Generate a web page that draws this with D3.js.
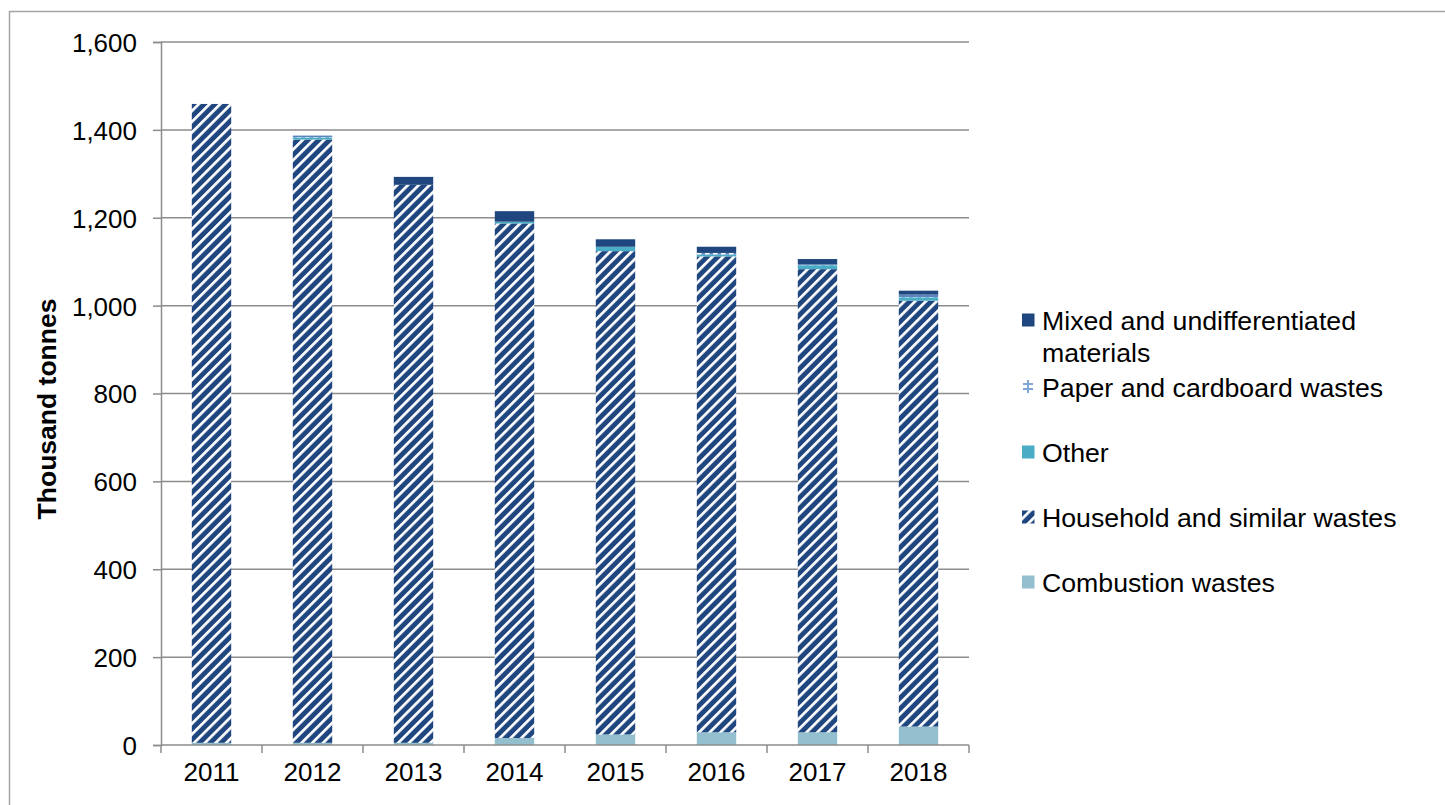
<!DOCTYPE html>
<html>
<head>
<meta charset="utf-8">
<script src="https://cdn.jsdelivr.net/npm/d3@7"></script>
<style>
  html, body { margin: 0; padding: 0; background: #ffffff; }
  svg { display: block; font-family: "Liberation Sans", Arial, sans-serif; }
</style>
</head>
<body>
<svg id="chart" width="1445" height="805"></svg>
<script>
// Waste treated, thousand tonnes, by waste category and year
const years = ["2011", "2012", "2013", "2014", "2015", "2016", "2017", "2018"];
const combustion = [5, 5, 5, 16, 24, 29, 29, 42];
const household = [1454, 1373, 1270, 1171, 1100, 1083, 1054, 969];
const other = [0, 5, 0, 4, 10, 4, 9, 8];
const paper = [0, 4, 0, 0, 0, 4, 2, 6];
const mixed = [0, 0, 18, 24, 17, 14, 12, 9];
const yTicks = [0, 200, 400, 600, 800, 1000, 1200, 1400, 1600];

// Stack order, bottom to top
const seriesKeys = ["combustion", "household", "other", "paper", "mixed"];
const seriesNames = {
  mixed: ["Mixed and undifferentiated", "materials"],
  paper: ["Paper and cardboard wastes"],
  other: ["Other"],
  household: ["Household and similar wastes"],
  combustion: ["Combustion wastes"]
};
const seriesValues = { combustion, household, other, paper, mixed };

const rows = years.map((y, i) => {
  const r = { year: y };
  seriesKeys.forEach(k => { r[k] = seriesValues[k][i]; });
  return r;
});

const svg = d3.select("#chart");
const plot = { left: 161, right: 969, top: 42, bottom: 745 };
const FONT = "Liberation Sans, Arial, sans-serif";

const x = d3.scaleBand().domain(years).range([plot.left, plot.right])
  .paddingInner(0.61).paddingOuter(0.305);
const xCat = d3.scaleBand().domain(years).range([plot.left, plot.right]);
const y = d3.scaleLinear().domain([0, 1600]).range([plot.bottom, plot.top]);

// Fills
const defs = svg.append("defs");
const hh = defs.append("pattern").attr("id", "hatch-household")
  .attr("patternUnits", "userSpaceOnUse").attr("width", 7.6).attr("height", 7.6)
  .attr("patternTransform", "rotate(45)");
hh.append("rect").attr("width", 7.6).attr("height", 7.6).attr("fill", "#1f467f");
hh.append("rect").attr("width", 2.7).attr("height", 7.6).attr("fill", "#ffffff");

const pp = defs.append("pattern").attr("id", "dash-paper")
  .attr("patternUnits", "userSpaceOnUse").attr("width", 8).attr("height", 4);
pp.append("rect").attr("width", 8).attr("height", 4).attr("fill", "#5b86bd");
pp.append("rect").attr("x", 1).attr("y", 1).attr("width", 4.5).attr("height", 1.6).attr("fill", "#ffffff");

const fills = {
  combustion: "#93bfcf",
  household: "url(#hatch-household)",
  other: "#4bacc6",
  paper: "url(#dash-paper)",
  mixed: "#1f467f"
};

// Outer frame
svg.append("path").attr("d", "M9.5,805 V11.5 H1445")
  .attr("fill", "none").attr("stroke", "#a3a3a3").attr("stroke-width", 1.5);

// Horizontal gridlines
svg.append("g").selectAll("line").data(yTicks.filter(t => t > 0)).join("line")
  .attr("x1", plot.left).attr("x2", plot.right)
  .attr("y1", d => y(d)).attr("y2", d => y(d))
  .attr("stroke", "#8c8c8c").attr("stroke-width", 1.5);

// Stacked bars
const stack = d3.stack().keys(seriesKeys)(rows);
svg.append("g").selectAll("g").data(stack).join("g")
  .attr("fill", d => fills[d.key])
  .selectAll("rect").data(d => d.filter(s => s[1] - s[0] > 0)).join("rect")
  .attr("x", d => x(d.data.year))
  .attr("width", x.bandwidth())
  .attr("y", d => y(d[1]))
  .attr("height", d => y(d[0]) - y(d[1]));

// Y axis
const yAxis = d3.axisLeft(y).tickValues(yTicks).tickSize(8).tickPadding(16)
  .tickFormat(d3.format(","));
const gy = svg.append("g").attr("transform", `translate(${plot.left},0)`).call(yAxis);
gy.select(".domain").attr("stroke", "#8c8c8c").attr("stroke-width", 1.5);
gy.selectAll(".tick line").attr("stroke", "#8c8c8c").attr("stroke-width", 1.5);
gy.selectAll(".tick text").attr("font-size", 26).attr("fill", "#000")
  .attr("font-family", FONT).attr("dy", "0.36em");

// X axis with ticks on category boundaries
const xAxis = d3.axisBottom(xCat).tickSize(0).tickPadding(31);
const gx = svg.append("g").attr("transform", `translate(0,${plot.bottom})`).call(xAxis);
gx.select(".domain").remove();
gx.selectAll(".tick text").attr("font-size", 26).attr("fill", "#000")
  .attr("font-family", FONT).attr("dy", "0.2em");
gx.append("line").attr("x1", plot.left).attr("x2", plot.right)
  .attr("stroke", "#8c8c8c").attr("stroke-width", 1.5);
gx.selectAll(".bound").data(years.concat(["end"])).join("line").attr("class", "bound")
  .attr("x1", (d, i) => i < years.length ? xCat(d) : plot.right)
  .attr("x2", (d, i) => i < years.length ? xCat(d) : plot.right)
  .attr("y1", 0).attr("y2", 8)
  .attr("stroke", "#8c8c8c").attr("stroke-width", 1.5);

// Axis title
svg.append("text")
  .attr("transform", "translate(56,409) rotate(-90)")
  .attr("text-anchor", "middle")
  .attr("font-size", 26.5).attr("font-weight", "bold").attr("fill", "#000")
  .text("Thousand tonnes");

// Legend (top to bottom = reverse stack order)
const legendKeys = seriesKeys.slice().reverse();
const legend = svg.append("g");
let ly = 320;
legendKeys.forEach((k, i) => {
  const g = legend.append("g").attr("transform", `translate(1022,${ly})`);
  if (k === "paper") {
    g.append("rect").attr("x", 5).attr("y", -7).attr("width", 2).attr("height", 13).attr("fill", "#7fa6d6");
    g.append("rect").attr("x", 1).attr("y", -4).attr("width", 10).attr("height", 2).attr("fill", "#7fa6d6");
    g.append("rect").attr("x", 1).attr("y", 1).attr("width", 10).attr("height", 2).attr("fill", "#7fa6d6");
  } else {
    g.append("rect").attr("x", 0).attr("y", -6.5).attr("width", 12.5).attr("height", 13)
      .attr("fill", fills[k]);
  }
  const lines = seriesNames[k];
  lines.forEach((t, j) => {
    g.append("text").attr("x", 20).attr("y", j * 32).attr("dy", "0.36em")
      .attr("font-size", 26.7).attr("fill", "#000").text(t);
  });
  ly += (lines.length - 1) * 32 + (i === 0 ? 35 : 65);
});
</script>
</body>
</html>
